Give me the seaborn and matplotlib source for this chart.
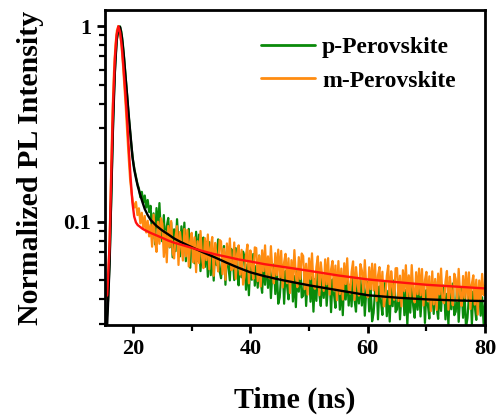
import numpy as np
import pandas as pd
import matplotlib
matplotlib.use("Agg")
import matplotlib.pyplot as plt
import matplotlib.ticker as mticker
import seaborn as sns

# ---------------- data ----------------
t_start, t_step = 15.0, 0.25          # instrument time grid (ns)

# p-Perovskite measured decay, units of 1e-4 (normalized), 8 values per 2 ns
p_data = [
    260, 270, 310, 400, 620, 1200, 2500, 4500,
    6800, 8600, 9700, 10000, 9400, 8200, 6800, 5500,
    4400, 3500, 2900, 2400, 2050, 1850, 1700, 1560,
    1480, 1330, 1420, 1250, 1360, 1180, 1290, 1120,
    1204, 816, 1102, 765, 1173, 918, 1244, 857,
    792, 1080, 702, 945, 1044, 738, 990, 657,
    913, 706, 1029, 764, 664, 946, 730, 988,
    627, 811, 918, 581, 857, 719, 612, 887,
    629, 858, 558, 751, 829, 586, 787, 522,
    785, 532, 718, 499, 765, 599, 811, 559,
    513, 663, 750, 475, 700, 588, 500, 725,
    649, 502, 732, 543, 472, 673, 519, 702,
    661, 448, 605, 420, 644, 504, 683, 470,
    594, 459, 670, 497, 432, 616, 475, 643,
    458, 624, 406, 546, 603, 426, 572, 380,
    410, 530, 600, 380, 560, 470, 400, 580,
    575, 390, 526, 365, 560, 438, 594, 409,
    417, 569, 370, 498, 550, 389, 521, 346,
    508, 393, 573, 425, 370, 527, 407, 550,
    371, 479, 542, 344, 506, 425, 362, 524,
    523, 354, 478, 332, 509, 399, 540, 372,
    476, 368, 537, 398, 346, 494, 381, 515,
    372, 508, 330, 444, 491, 347, 465, 309,
    341, 441, 499, 316, 466, 391, 333, 483,
    484, 328, 443, 308, 472, 369, 500, 344,
    356, 486, 316, 425, 470, 332, 446, 296,
    442, 342, 498, 370, 322, 458, 354, 478,
    327, 423, 479, 303, 447, 375, 319, 463,
    437, 337, 492, 365, 318, 453, 349, 472,
    466, 316, 427, 296, 454, 356, 482, 332,
    346, 472, 307, 413, 456, 322, 432, 287,
    321, 416, 470, 298, 439, 368, 314, 455,
    440, 330, 410, 300, 380,
]

# m-Perovskite measured decay, units of 1e-4
m_data = [
    380, 400, 410, 480, 800, 1700, 3600, 5800,
    8000, 9500, 10000, 9400, 8200, 6600, 5100, 3900,
    2900, 2150, 1650, 1400, 1250, 1180, 1260, 1080,
    1170, 980, 1110, 920, 1070, 880, 1010, 840,
    963, 744, 1085, 805, 700, 998, 770, 1041,
    974, 660, 891, 619, 949, 743, 1007, 693,
    648, 837, 948, 600, 885, 743, 632, 916,
    664, 906, 589, 793, 876, 619, 831, 551,
    794, 614, 895, 664, 578, 823, 635, 859,
    570, 737, 834, 528, 778, 653, 556, 806,
    793, 538, 726, 504, 773, 605, 820, 564,
    574, 782, 509, 685, 756, 535, 717, 476,
    522, 674, 763, 483, 712, 598, 509, 738,
    732, 496, 670, 465, 713, 558, 756, 521,
    664, 513, 749, 556, 483, 689, 532, 719,
    519, 708, 460, 620, 684, 484, 649, 431,
    635, 490, 715, 531, 462, 658, 508, 687,
    666, 451, 609, 423, 649, 508, 688, 474,
    453, 586, 664, 420, 619, 520, 442, 641,
    477, 650, 423, 569, 629, 444, 596, 396,
    628, 426, 575, 399, 612, 479, 649, 447,
    428, 553, 626, 397, 585, 491, 418, 606,
    563, 435, 635, 471, 410, 584, 451, 609,
    444, 605, 393, 529, 585, 413, 554, 368,
    408, 527, 596, 378, 557, 467, 398, 577,
    578, 392, 529, 368, 564, 441, 598, 412,
    531, 411, 599, 444, 386, 551, 425, 575,
    420, 572, 372, 501, 553, 391, 525, 348,
    556, 377, 509, 353, 542, 424, 575, 396,
    382, 494, 559, 354, 522, 438, 373, 541,
    508, 393, 573, 425, 370, 527, 407, 550,
    403, 550, 357, 481, 531, 376, 504, 334,
    500, 400, 540, 420, 470,
]

# fitted curves
fit_t = [15.2, 15.6, 16.0, 16.3, 16.6, 16.9, 17.2, 17.5, 17.8, 18.1, 18.4, 18.7,
         19.0, 19.3, 19.6, 19.9, 20.2, 20.5, 20.8, 21.2, 21.6, 22.0, 22.5, 23,
         24, 25, 26, 27, 28, 30, 32, 34, 36, 38, 40, 42.5, 45, 47.5, 50,
         55, 60, 65, 70, 75, 80]
p_fit = [0.025, 0.030, 0.060, 0.14, 0.32, 0.58, 0.84, 0.98, 0.99, 0.88, 0.72, 0.56,
         0.44, 0.34, 0.27, 0.215, 0.185, 0.167, 0.152, 0.138, 0.126, 0.116, 0.108, 0.102,
         0.095, 0.090, 0.086, 0.082, 0.079, 0.074, 0.0695, 0.0655, 0.0615, 0.058, 0.055,
         0.0525, 0.0505, 0.0488, 0.0472, 0.0445, 0.0420, 0.0408, 0.0400, 0.0395, 0.0392]
m_fit = [0.041, 0.042, 0.075, 0.18, 0.40, 0.68, 0.90, 1.0, 0.93, 0.78, 0.60, 0.45,
         0.33, 0.23, 0.165, 0.125, 0.106, 0.099, 0.096, 0.094, 0.092, 0.0905, 0.089, 0.0875,
         0.085, 0.0825, 0.080, 0.078, 0.0765, 0.0734, 0.0705, 0.068, 0.066, 0.064, 0.0625,
         0.0605, 0.059, 0.0575, 0.056, 0.053, 0.0506, 0.049, 0.0475, 0.0465, 0.0455]

labels = ["p-Perovskite", "m-Perovskite"]
x_major = [20, 40, 60, 80]
x_minor = [30, 50, 70]
y_major = [0.1, 1]
y_major_labels = ["0.1", "1"]

# ---------------- plotting ----------------
sns.set_theme(style="ticks")
plt.rcParams["font.family"] = ["Liberation Serif", "DejaVu Serif"]
plt.rcParams["font.weight"] = "bold"
for key in ["text.color", "axes.labelcolor", "xtick.color", "ytick.color", "axes.edgecolor"]:
    plt.rcParams[key] = "black"

n = len(p_data)
t = t_start + t_step * np.arange(n)
df = pd.DataFrame({
    "t": np.concatenate([t, t]),
    "I": np.concatenate([np.array(p_data), np.array(m_data)]) / 1e4,
    "sample": [labels[0]] * n + [labels[1]] * len(m_data),
})
fit_df = pd.DataFrame({"t": fit_t, "p": p_fit, "m": m_fit})

fig = plt.figure(figsize=(4.97, 4.18), dpi=100)
ax = fig.add_axes([0.211, 0.222, 0.765, 0.754])

sns.lineplot(data=df, x="t", y="I", hue="sample",
             palette={labels[0]: "#0a8a0a", labels[1]: "#ff8c10"},
             estimator=None, linewidth=1.6, ax=ax)
sns.lineplot(data=fit_df, x="t", y="p", color="black", linewidth=1.7,
             estimator=None, ax=ax, legend=False)
sns.lineplot(data=fit_df, x="t", y="m", color="#ff1010", linewidth=1.7,
             estimator=None, ax=ax, legend=False)

ax.set_yscale("log")
ax.set_xlim(15.2, 80)
ax.set_ylim(0.0295, 1.21)

ax.set_xticks(x_major)
ax.set_xticks(x_minor, minor=True)
ax.set_yticks(y_major)
ax.set_yticklabels(y_major_labels)
ax.yaxis.set_minor_locator(mticker.LogLocator(base=10, subs=np.arange(2, 10)))
ax.yaxis.set_minor_formatter(mticker.NullFormatter())

for sp in ax.spines.values():
    sp.set_linewidth(2.0)
    sp.set_color("black")
    sp.set_visible(True)

ax.tick_params(which="major", direction="out", length=6, width=2, labelsize=16,
               colors="black", pad=4)
ax.tick_params(which="minor", direction="out", length=4, width=1.6, colors="black")
for lab in ax.get_xticklabels() + ax.get_yticklabels():
    lab.set_fontweight("bold")

ax.set_xlabel("Time (ns)", fontsize=21.5, fontweight="bold", labelpad=20)
ax.set_ylabel("Normalized PL Intensity", fontsize=21.5, fontweight="bold", labelpad=14)

handles, _ = ax.get_legend_handles_labels()
leg = ax.legend(handles=handles[:2], labels=labels, loc="upper left",
                bbox_to_anchor=(0.41, 0.915), frameon=False, fontsize=17,
                handlelength=2.3, handletextpad=0.3, labelspacing=0.5,
                borderpad=0, borderaxespad=0)
for txt in leg.get_texts():
    txt.set_fontweight("bold")
for line in leg.get_lines():
    line.set_linewidth(2.0)

fig.savefig("out.png", dpi=100)
